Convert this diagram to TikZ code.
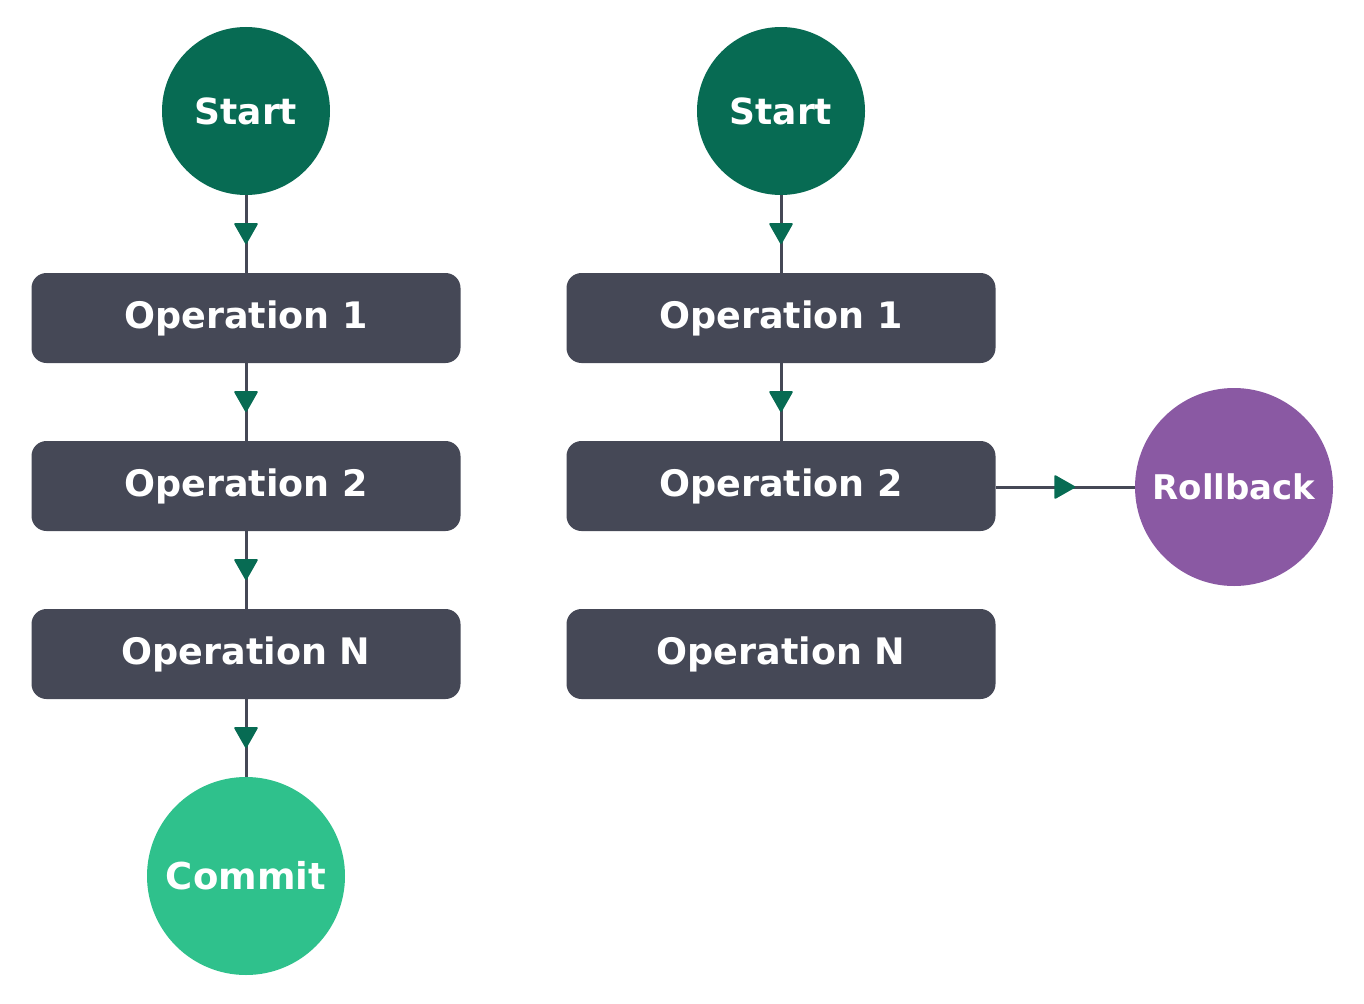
\documentclass[tikz,border=0pt]{standalone}
\usepackage{fontspec}
\setmainfont{DejaVu Sans}
\usetikzlibrary{decorations.markings}
\definecolor{dgreen}{HTML}{076B53}
\definecolor{opgray}{HTML}{454856}
\definecolor{cgreen}{HTML}{2FC18C}
\definecolor{rpurple}{HTML}{8A59A3}
\tikzset{
  opbox/.style={fill=opgray, rounded corners=15pt, minimum width=429pt, minimum height=90pt, inner sep=0pt,
    text=white, font=\fontsize{36.5}{40}\selectfont\bfseries},
  startnode/.style={circle, fill=dgreen, minimum size=168pt, inner sep=0pt, text=white, font=\fontsize{36}{40}\selectfont\bfseries},
  commitnode/.style={circle, fill=cgreen, minimum size=198pt, inner sep=0pt, text=white, font=\fontsize{37}{40}\selectfont\bfseries},
  rollnode/.style={circle, fill=rpurple, minimum size=198pt, inner sep=0pt, text=white, font=\fontsize{34}{38}\selectfont\bfseries},
  conn/.style={draw=opgray, line width=3pt, postaction={decorate}, decoration={markings,
    mark=at position 0.5 with {\fill[dgreen, rounded corners=2pt] (11pt,0pt) -- (-11pt,12.5pt) -- (-11pt,-12.5pt) -- cycle;}}}
}
\begin{document}
\begin{tikzpicture}[x=1pt,y=-1pt]
\useasboundingbox (0,0) rectangle (1364,1003);
% left column
\node[startnode] (s1) at (246,111) {Start};
\node[opbox] (a1) at (246,318) {Operation 1};
\node[opbox] (a2) at (246,486) {Operation 2};
\node[opbox] (an) at (246,654) {Operation N};
\node[commitnode] (c) at (246,876) {Commit};
% right column
\node[startnode] (s2) at (781,111) {Start};
\node[opbox] (b1) at (781,318) {Operation 1};
\node[opbox] (b2) at (781,486) {Operation 2};
\node[opbox] (bn) at (781,654) {Operation N};
\node[rollnode] (r) at (1234,487) {Rollback};
% connectors
\draw[conn] (s1) -- (a1);
\draw[conn] (a1) -- (a2);
\draw[conn] (a2) -- (an);
\draw[conn] (an) -- (c);
\draw[conn] (s2) -- (b1);
\draw[conn] (b1) -- (b2);
\draw[conn] (b2.east |- r) -- (r);
\end{tikzpicture}
\end{document}
